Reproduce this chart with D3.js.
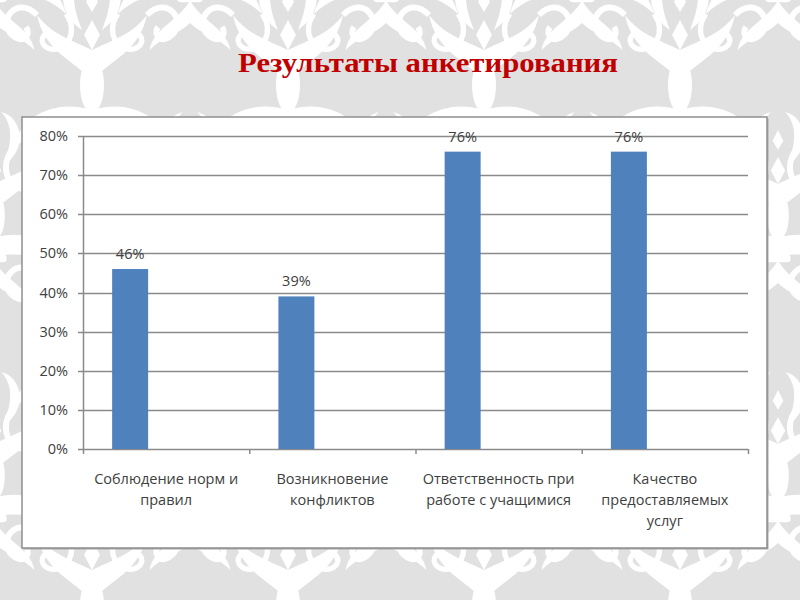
<!DOCTYPE html>
<html>
<head>
<meta charset="utf-8">
<script src="https://cdn.jsdelivr.net/npm/d3@7"></script>
<style>
  body { margin: 0; background: #e0e0e0; }
  svg { display: block; }
</style>
</head>
<body>
<script>
const categories = [
    'Соблюдение норм и\nправил',
    'Возникновение\nконфликтов',
    'Ответственность при\nработе с учащимися',
    'Качество\nпредоставляемых\nуслуг'
];
const values = [0.46, 0.39, 0.76, 0.76];
const yTicks = [0, 0.1, 0.2, 0.3, 0.4, 0.5, 0.6, 0.7, 0.8];
// chart was made with 3 series slots, only the first one is filled
const seriesSlots = ['s1', 's2', 's3'];

const svgWidth = 800;
const svgHeight = 600;

const box = {left: 22, top: 117, right: 767, bottom: 548};
const margin = {left: 83, right: 52, top: 136, bottom: 151};

const svg = d3.select('body')
.append('svg')
.attr('width', svgWidth)
.attr('height', svgHeight)

// damask-like background tile
const defs = svg.append('defs');
const pattern = defs.append('pattern')
.attr('id', 'damask')
.attr('patternUnits', 'userSpaceOnUse')
.attr('width', 196)
.attr('height', 260)
.attr('x', -6)
.attr('y', -40)

pattern.append('rect')
.attr('width', 196)
.attr('height', 260)
.attr('fill', '#e1e1e1')

const drawMotif = (g) => {
    const half = [
        'M0,-10 C-20,-30 -48,-40 -55,-75 C-40,-55 -20,-50 0,-40 Z',
        'M0,20 C-30,10 -70,20 -80,60 C-60,40 -35,35 0,40 Z',
        'M-10,-60 C-40,-80 -30,-115 -8,-120 C-22,-105 -20,-85 -10,-60 Z',
        'M0,45 C-15,70 -40,75 -45,100 C-30,85 -12,82 0,70 Z'
    ];
    [1, -1].forEach((s) => {
        const side = g.append('g').attr('transform', `scale(${s},1)`);
        side.selectAll('path.leaf')
        .data(half)
        .enter()
        .append('path')
        .attr('class', 'leaf')
        .attr('d', (d) => d)
        .attr('fill', '#fff')
        side.append('path')
        .attr('d', 'M-55,-75 C-75,-95 -95,-70 -80,-55 C-70,-45 -60,-55 -66,-63')
        .attr('fill', 'none')
        .attr('stroke', '#fff')
        .attr('stroke-width', 6)
        side.append('path')
        .attr('d', 'M-80,60 C-95,80 -80,105 -60,98 C-48,92 -55,78 -64,82')
        .attr('fill', 'none')
        .attr('stroke', '#fff')
        .attr('stroke-width', 6)
    })
    g.append('ellipse').attr('cx', 0).attr('cy', -5).attr('rx', 12).attr('ry', 28).attr('fill', '#fff')
    g.append('path').attr('d', 'M0,-70 L8,-55 L0,-40 L-8,-55 Z').attr('fill', '#fff')
    g.append('path').attr('d', 'M0,-100 L6,-88 L0,-78 L-6,-88 Z').attr('fill', '#fff')
    g.append('rect').attr('x', -14).attr('y', 38).attr('width', 28).attr('height', 9).attr('rx', 4).attr('fill', '#fff')
}

drawMotif(pattern.append('g').attr('transform', 'translate(98,130)'))
drawMotif(pattern.append('g').attr('transform', 'translate(0,0) scale(0.9)'))
drawMotif(pattern.append('g').attr('transform', 'translate(196,0) scale(0.9)'))
drawMotif(pattern.append('g').attr('transform', 'translate(0,260) scale(0.9)'))
drawMotif(pattern.append('g').attr('transform', 'translate(196,260) scale(0.9)'))

svg.append('rect')
.attr('width', svgWidth)
.attr('height', svgHeight)
.attr('fill', 'url(#damask)')

svg.append('text')
.attr('x', 428)
.attr('y', 72)
.attr('text-anchor', 'middle')
.attr('font-family', '"Liberation Serif", "Times New Roman", serif')
.attr('font-weight', 'bold')
.attr('font-size', 27)
.attr('textLength', 380)
.attr('lengthAdjust', 'spacingAndGlyphs')
.attr('fill', '#c00000')
.text('Результаты анкетирования')

// chart frame
svg.append('rect')
.attr('x', box.left + 1.5)
.attr('y', box.top + 1.5)
.attr('width', box.right - box.left)
.attr('height', box.bottom - box.top)
.attr('fill', '#a8a8a8')

svg.append('rect')
.attr('x', box.left)
.attr('y', box.top)
.attr('width', box.right - box.left)
.attr('height', box.bottom - box.top)
.attr('fill', '#fff')
.attr('stroke', '#8e8e8e')
.attr('stroke-width', 1.5)

const x = d3.scaleBand()
.domain(categories)
.range([margin.left, svgWidth - margin.right])
.padding(0)

const xSeries = d3.scaleBand()
.domain(seriesSlots)
.range([0, x.bandwidth()])
.paddingInner(0)
.paddingOuter(0.81)

const y = d3.scaleLinear()
.domain([0, 0.8])
.range([svgHeight - margin.bottom, margin.top])

const textColor = '#404040';
const font = '"Open Sans", "Liberation Sans", sans-serif';
const fontSize = 14.5;

// gridlines
svg.append('g')
.selectAll('line')
.data(yTicks)
.enter()
.append('line')
.attr('x1', margin.left - 5)
.attr('x2', svgWidth - margin.right)
.attr('y1', (d) => Math.round(y(d)) + 0.5)
.attr('y2', (d) => Math.round(y(d)) + 0.5)
.attr('stroke', '#8a8a8a')
.attr('stroke-width', 1.5)

// y axis line
svg.append('line')
.attr('x1', margin.left + 0.5)
.attr('x2', margin.left + 0.5)
.attr('y1', y(0.8))
.attr('y2', y(0))
.attr('stroke', '#8a8a8a')
.attr('stroke-width', 1.5)

// y labels
svg.append('g')
.selectAll('text')
.data(yTicks)
.enter()
.append('text')
.attr('x', margin.left - 15)
.attr('y', (d) => y(d) + 5)
.attr('text-anchor', 'end')
.attr('font-family', font)
.attr('font-size', fontSize)
.attr('fill', textColor)
.text((d) => d3.format('.0%')(d))

// category ticks at band edges
const edges = categories.map((c) => x(c)).concat([x(categories[categories.length - 1]) + x.bandwidth()]);
svg.append('g')
.selectAll('line')
.data(edges)
.enter()
.append('line')
.attr('x1', (d) => d + 0.5)
.attr('x2', (d) => d + 0.5)
.attr('y1', y(0))
.attr('y2', y(0) + 5)
.attr('stroke', '#8a8a8a')
.attr('stroke-width', 1.5)

// bars
svg.append('g')
.selectAll('rect')
.data(values)
.enter()
.append('rect')
.attr('x', (d, i) => x(categories[i]) + xSeries('s1'))
.attr('width', xSeries.bandwidth())
.attr('y', (d) => y(d))
.attr('height', (d) => y(0) - y(d))
.attr('fill', '#4f81bd')

// value labels
svg.append('g')
.selectAll('text')
.data(values)
.enter()
.append('text')
.attr('x', (d, i) => x(categories[i]) + xSeries('s1') + xSeries.bandwidth() / 2)
.attr('y', (d) => y(d) - 10)
.attr('text-anchor', 'middle')
.attr('font-family', font)
.attr('font-size', fontSize)
.attr('fill', textColor)
.text((d) => d3.format('.0%')(d))

// category labels
const catLabels = svg.append('g')
.selectAll('text')
.data(categories)
.enter()
.append('text')
.attr('text-anchor', 'middle')
.attr('font-family', font)
.attr('font-size', fontSize)
.attr('fill', textColor)

catLabels.each(function (d) {
    const lines = d.split('\n');
    d3.select(this).selectAll('tspan')
    .data(lines)
    .enter()
    .append('tspan')
    .attr('x', x(d) + x.bandwidth() / 2)
    .attr('y', (l, i) => y(0) + 35 + i * 21)
    .text((l) => l)
})
</script>
</body>
</html>
